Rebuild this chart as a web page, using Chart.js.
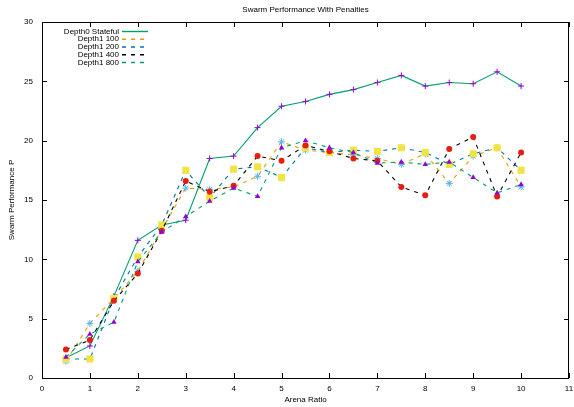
<!DOCTYPE html>
<html>
<head>
<meta charset="utf-8">
<script src="https://cdn.jsdelivr.net/npm/chart.js@4.4.0/dist/chart.umd.min.js"></script>
<style>
  html, body { margin: 0; padding: 0; background: #fff; }
</style>
</head>
<body>
<canvas id="perfChart" width="574" height="407"></canvas>
<script>
const arenaRatio = [0.5, 1, 1.5, 2, 2.5, 3, 3.5, 4, 4.5, 5, 5.5, 6, 6.5, 7, 7.5, 8, 8.5, 9, 9.5, 10];

const depth0Stateful = [1.7, 2.7, 6.9, 11.6, 12.9, 13.3, 18.5, 18.7, 21.1, 22.9, 23.3, 23.9, 24.3, 24.9, 25.5, 24.6, 24.9, 24.8, 25.8, 24.6];
const depth1N100 = [1.4, 4.6, 6.7, 9.0, 12.5, 16.0, 15.9, 16.1, 17.0, 19.9, 19.2, 19.0, 18.8, 18.5, 18.0, 18.9, 16.4, 18.7, 19.4, 16.1];
const depth1N200 = [1.6, 1.6, 6.7, 10.2, 12.9, 17.5, 15.2, 17.6, 17.8, 16.9, 19.4, 19.0, 19.2, 19.1, 19.4, 19.0, 18.0, 18.9, 19.4, 17.5];
const depth1N400 = [2.4, 3.2, 6.5, 8.8, 12.4, 16.6, 15.7, 16.2, 18.7, 18.3, 19.6, 19.1, 18.5, 18.3, 16.1, 15.4, 19.3, 20.3, 15.3, 19.0];
const depth1N800 = [1.75, 3.7, 4.7, 9.8, 12.3, 13.6, 14.9, 16.0, 15.3, 19.4, 20.0, 19.4, 19.0, 18.1, 18.2, 18.0, 18.2, 16.9, 15.6, 16.3];

const seriesLabels = ['Depth0 Stateful', 'Depth1 100', 'Depth1 200', 'Depth1 400', 'Depth1 800'];
const xTickValues = [0, 1, 2, 3, 4, 5, 6, 7, 8, 9, 10, 11];
const yTickValues = [0, 5, 10, 15, 20, 25, 30];

const FONT = 'Liberation Sans, Arial, sans-serif';

function toPoints(values) {
    return arenaRatio.map((x, i) => ({ x: x, y: values[i] }));
}

// gnuplot style: line colour and point colour differ per series
const styles = [
    { line: '#009e73', dash: [], point: '#9400d3', shape: 'cross', r: 3 },
    { line: '#e69f00', dash: [4, 5], point: '#56b4e9', shape: 'star', r: 3.5 },
    { line: '#0072b2', dash: [4, 5], point: '#f0e442', shape: 'rect', r: 5 },
    { line: '#000000', dash: [4, 5], point: '#e51e10', shape: 'circle', r: 3 },
    { line: '#009e73', dash: [4, 5], point: '#9400d3', shape: 'triangle', r: 3.2 }
];

const seriesValues = [depth0Stateful, depth1N100, depth1N200, depth1N400, depth1N800];

const datasets = seriesValues.map((vals, i) => {
    const s = styles[i];
    const filled = s.shape !== 'cross' && s.shape !== 'star';
    return {
        label: seriesLabels[i],
        data: toPoints(vals),
        borderColor: s.line,
        borderWidth: 1.1,
        borderDash: s.dash,
        backgroundColor: s.line,
        pointStyle: s.shape,
        pointRadius: s.r,
        pointHoverRadius: s.r,
        pointBackgroundColor: s.point,
        pointBorderColor: s.point,
        pointBorderWidth: filled ? 0 : 1,
        tension: 0,
        fill: false,
        order: seriesValues.length - i
    };
});

const framePlugin = {
    id: 'frame',
    afterDraw(chart) {
        const { ctx, chartArea: a, scales: { x, y } } = chart;
        ctx.save();
        ctx.strokeStyle = '#000';
        ctx.lineWidth = 1;
        ctx.setLineDash([]);
        ctx.strokeRect(a.left + 0.5, a.top + 0.5, a.right - a.left - 1, a.bottom - a.top);

        ctx.beginPath();
        xTickValues.forEach(v => {
            const px = Math.round(x.getPixelForValue(v)) + 0.5;
            ctx.moveTo(px, a.bottom); ctx.lineTo(px, a.bottom - 5);
            ctx.moveTo(px, a.top); ctx.lineTo(px, a.top + 5);
        });
        yTickValues.forEach(v => {
            const py = Math.round(y.getPixelForValue(v)) + 0.5;
            ctx.moveTo(a.left, py); ctx.lineTo(a.left + 5, py);
            ctx.moveTo(a.right, py); ctx.lineTo(a.right - 5, py);
        });
        ctx.stroke();

        // title
        ctx.fillStyle = '#000';
        ctx.font = '8px ' + FONT;
        ctx.textAlign = 'center';
        ctx.textBaseline = 'middle';
        ctx.fillText('Swarm Performance With Penalties', (a.left + a.right) / 2, 10);

        // legend, gnuplot style: text right aligned, line sample after it
        ctx.textAlign = 'right';
        ctx.lineWidth = 1.4;
        chart.data.datasets.forEach((ds, i) => {
            const ly = 31.5 + i * 7.75;
            ctx.fillStyle = '#000';
            ctx.fillText(ds.label, 119, ly);
            ctx.strokeStyle = ds.borderColor;
            ctx.setLineDash(ds.borderDash);
            ctx.beginPath();
            ctx.moveTo(122, ly);
            ctx.lineTo(148, ly);
            ctx.stroke();
        });
        ctx.restore();
    }
};

new Chart(document.getElementById('perfChart').getContext('2d'), {
    type: 'line',
    data: { datasets: datasets },
    options: {
        responsive: false,
        animation: false,
        layout: { padding: { top: 22, right: 2, left: 0, bottom: 0 } },
        plugins: {
            legend: { display: false },
            title: { display: false },
            tooltip: { enabled: false }
        },
        scales: {
            x: {
                type: 'linear',
                min: 0,
                max: 11,
                afterBuildTicks: s => { s.ticks = xTickValues.map(v => ({ value: v })); },
                afterFit: s => { s.height = 29; s.paddingLeft = 0; s.paddingRight = 0; },
                grid: { display: false, drawTicks: false },
                border: { display: false },
                ticks: { color: '#000', font: { family: FONT, size: 8 }, padding: 6, maxRotation: 0, autoSkip: false },
                title: { display: true, text: 'Arena Ratio', color: '#000', font: { family: FONT, size: 8 }, padding: { top: 0, bottom: 2 } }
            },
            y: {
                min: 0,
                max: 30,
                afterBuildTicks: s => { s.ticks = yTickValues.map(v => ({ value: v })); },
                afterFit: s => { s.width = 42; },
                grid: { display: false, drawTicks: false },
                border: { display: false },
                ticks: { color: '#000', font: { family: FONT, size: 8 }, padding: 9 },
                title: { display: true, text: 'Swarm Performance P', color: '#000', font: { family: FONT, size: 8 }, padding: { top: 7, bottom: 0 } }
            }
        }
    },
    plugins: [framePlugin]
});
</script>
</body>
</html>
